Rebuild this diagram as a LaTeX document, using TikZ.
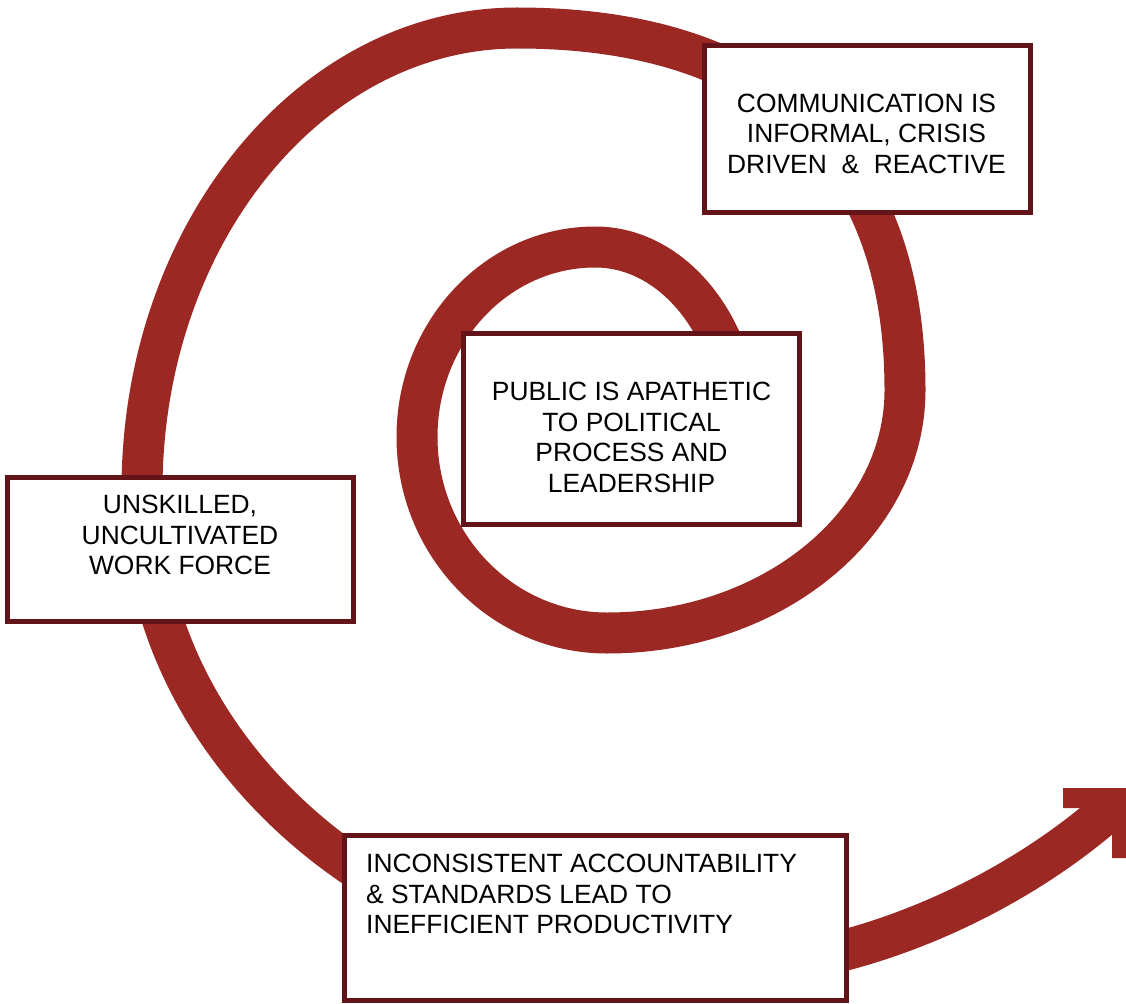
\documentclass[tikz,border=0pt]{standalone}
\usepackage{fontspec}
\setmainfont{Liberation Sans}
\definecolor{band}{RGB}{156,40,36}
\definecolor{frame}{RGB}{98,20,25}
\begin{document}
\begin{tikzpicture}[x=1pt,y=-1pt,
  box/.style={draw=frame, line width=5pt, fill=white, inner sep=0pt},
  lbl/.style={font=\fontsize{26.4}{30.5}\selectfont, inner sep=0pt, align=center},
  spiral/.style={draw=band, line width=41pt, line cap=butt, line join=round}]
\useasboundingbox (0,0) rectangle (1126,1003);
\clip (0,0) rectangle (1126,1003);
% spiral band key points
\coordinate (s0) at (741,437);
\coordinate (t1) at (595,247);
\coordinate (l1) at (417,437);
\coordinate (b1) at (607,633);
\coordinate (r2) at (905,390);
\coordinate (t2) at (517,28);
\coordinate (l2) at (142,490);
\coordinate (b2) at (700,970);
\coordinate (e) at (1100,818);
\draw[spiral] (s0)
  .. controls (741,332) and (676,247) .. (t1)
  .. controls (497,247) and (417,332) .. (l1)
  .. controls (417,545) and (502,633) .. (b1)
  .. controls (772,633) and (905,524) .. (r2)
  .. controls (905,155) and (769,28) .. (t2)
  .. controls (310,28) and (142,235) .. (l2)
  .. controls (142,755) and (392,970) .. (b2)
  .. controls (850,970) and (1000,902) .. (e);
% arrow head
\fill[band] (1082,808) -- (1063,808) -- (1063,788) -- (1140,788) -- (1140,858)
  -- (1112,858) -- (1112,835) -- cycle;
% boxes
\node[box, minimum width=326pt, minimum height=167pt] (comm) at (867.5,129) {};
\node[box, minimum width=336pt, minimum height=191pt] (pub) at (631.5,429) {};
\node[box, minimum width=346pt, minimum height=144pt] (unsk) at (180.5,549.5) {};
\node[box, minimum width=502pt, minimum height=165pt] (inco) at (595.5,918) {};
% texts
\node[lbl] (commt) at (866.5,133.5) {COMMUNICATION IS\\INFORMAL, CRISIS\\DRIVEN\ \ \&\ \ REACTIVE};
\node[lbl] (pubt) at (631.5,437.5) {PUBLIC IS APATHETIC\\TO POLITICAL\\PROCESS AND\\LEADERSHIP};
\node[lbl] (unskt) at (180,535) {UNSKILLED,\\UNCULTIVATED\\WORK FORCE};
\node[lbl, align=left, anchor=north west] (incot) at (366,854) {INCONSISTENT ACCOUNTABILITY\\\&~STANDARDS LEAD TO\\INEFFICIENT PRODUCTIVITY};
\end{tikzpicture}
\end{document}
